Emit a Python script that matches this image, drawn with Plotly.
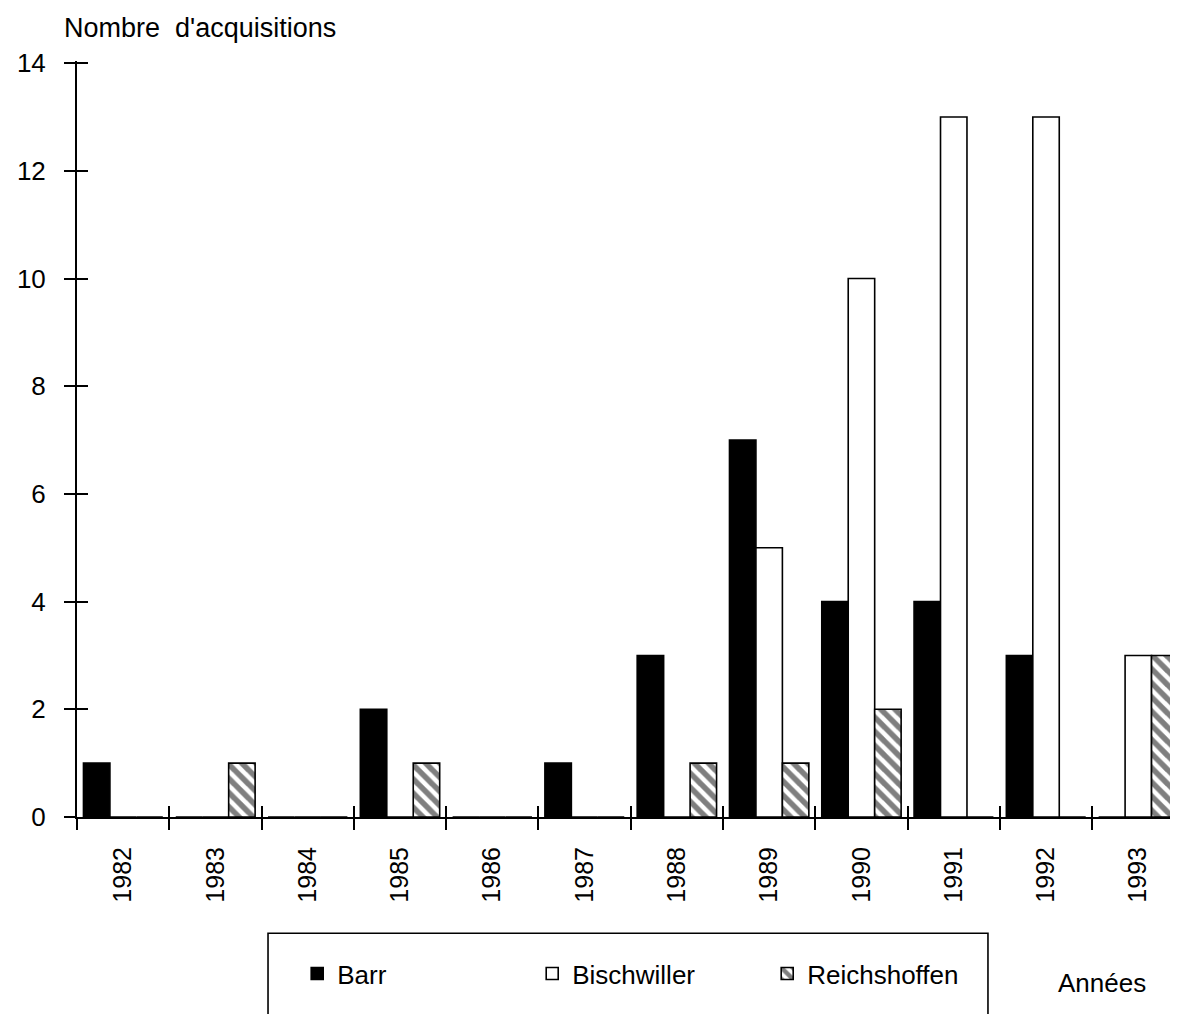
import plotly.graph_objects as go

years = [1982, 1983, 1984, 1985, 1986, 1987, 1988, 1989, 1990, 1991, 1992, 1993]
barr = [1, 0, 0, 2, 0, 1, 3, 7, 4, 4, 3, 0]
bischwiller = [0, 0, 0, 0, 0, 0, 0, 5, 10, 13, 13, 3]
reichshoffen = [0, 1, 0, 1, 0, 0, 1, 1, 2, 0, 0, 3]
y_ticks = [0, 2, 4, 6, 8, 10, 12, 14]
boundaries = [y - 0.5 for y in years]

FONT = "Liberation Sans, Arial, Helvetica, sans-serif"
LINE = dict(color="black", width=1.6)

fig = go.Figure()
fig.add_trace(go.Bar(name="Barr", x=years, y=barr,
                     marker=dict(color="black", line=LINE)))
fig.add_trace(go.Bar(name="Bischwiller", x=years, y=bischwiller,
                     marker=dict(color="white", line=LINE)))
fig.add_trace(go.Bar(name="Reichshoffen", x=years, y=reichshoffen,
                     marker=dict(color="white", line=LINE,
                                 pattern=dict(shape="\\", fgcolor="black", bgcolor="white",
                                              size=10, solidity=0.55))))
# invisible helper trace so the overlay axes (inner half of the crossing ticks) are drawn
fig.add_trace(go.Scatter(x=years, y=barr, xaxis="x2", yaxis="y2", mode="none",
                         showlegend=False, hoverinfo="skip"))

xrange = [years[0] - 0.5, years[-1] + 0.43]
yrange = [0, 14.04]

fig.update_layout(
    width=1170, height=1006,
    margin=dict(l=69, r=0, t=53, b=197),
    paper_bgcolor="white", plot_bgcolor="white",
    barmode="group", bargap=0.14, bargroupgap=0,
    font=dict(family=FONT, size=25, color="black"),
    showlegend=True,
    legend=dict(orientation="h", x=0.2, y=-0.176, xanchor="left", yanchor="top",
                font=dict(size=26), bgcolor="rgba(0,0,0,0)", borderwidth=0,
                entrywidth=190, entrywidthmode="pixels", traceorder="normal"),
    xaxis=dict(range=xrange, tickmode="array", tickvals=years,
               ticktext=[str(y) for y in years], tickangle=-90, ticks="",
               minor=dict(tickmode="array", tickvals=boundaries, ticks="outside",
                          ticklen=11, tickwidth=1.6, tickcolor="black", showgrid=False),
               showline=True, linecolor="black", linewidth=2, showgrid=False,
               zeroline=False, ticklabelstandoff=18, tickfont=dict(size=25)),
    xaxis2=dict(overlaying="x", anchor="y2", range=xrange, tickmode="array",
                tickvals=boundaries, ticks="inside", ticklen=11, tickwidth=1.6,
                tickcolor="black", showticklabels=False, showline=False,
                showgrid=False, zeroline=False, side="bottom"),
    yaxis=dict(range=yrange, tickmode="array", tickvals=y_ticks, ticks="outside",
               ticklen=11, tickwidth=1.6, tickcolor="black",
               showline=True, linecolor="black", linewidth=2, showgrid=False,
               zeroline=False, ticklabelstandoff=13, tickfont=dict(size=26)),
    yaxis2=dict(overlaying="y", anchor="x2", side="left", range=yrange,
                tickmode="array", tickvals=y_ticks, ticks="inside", ticklen=11,
                tickwidth=1.6, tickcolor="black", showticklabels=False,
                showline=False, showgrid=False, zeroline=False),
    shapes=[dict(type="rect", xref="paper", yref="paper",
                 x0=0.1735, x1=0.8274, y0=-0.1538, y1=-0.32,
                 line=dict(color="black", width=1.6), fillcolor="rgba(0,0,0,0)",
                 layer="above")],
    annotations=[
        dict(text="Nombre  d'acquisitions", xref="paper", yref="paper",
             x=-0.0136, y=1.0437, xanchor="left", yanchor="middle",
             showarrow=False, font=dict(size=27)),
        dict(text="Années", xref="paper", yref="paper",
             x=0.931, y=-0.220, xanchor="center", yanchor="middle",
             showarrow=False, font=dict(size=26)),
    ],
)

fig.write_html("out.html")
